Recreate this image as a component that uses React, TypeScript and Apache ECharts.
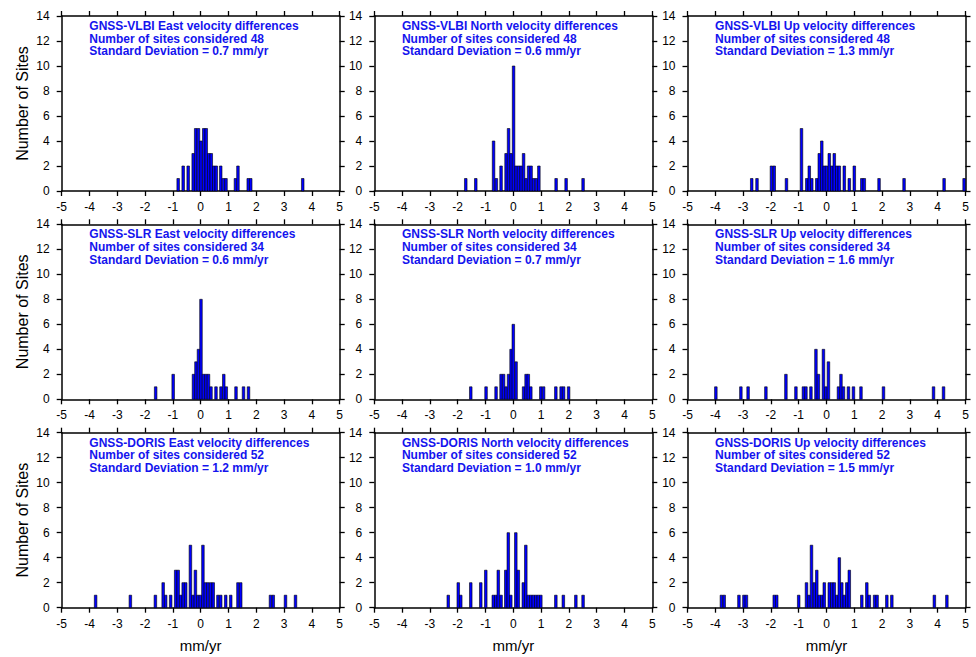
import React, { useEffect, useRef } from 'react';
import * as echarts from 'echarts';

// ---- values ([bin centre in mm/yr, number of sites]) ----
const vlbiEast = [[-0.81,1],[-0.63,2],[-0.45,2],[-0.27,3],[-0.18,5],[-0.08,5],[0.01,4],[0.11,5],[0.2,5],[0.29,3],[0.38,3],[0.47,2],[0.56,2],[0.72,2],[0.82,1],[0.91,1],[1.25,1],[1.34,2],[1.71,1],[1.8,1],[3.67,1]];
const vlbiNorth = [[-1.71,1],[-1.35,1],[-0.71,4],[-0.61,1],[-0.44,2],[-0.26,3],[-0.17,5],[-0.08,3],[0.01,10],[0.1,2],[0.19,2],[0.28,2],[0.37,3],[0.46,1],[0.55,2],[0.64,2],[0.73,1],[0.83,1],[0.92,2],[1.54,1],[1.9,1],[2.51,1]];
const vlbiUp = [[-2.69,1],[-2.5,1],[-1.98,2],[-1.88,2],[-1.44,1],[-0.9,5],[-0.71,1],[-0.62,2],[-0.53,1],[-0.35,1],[-0.26,3],[-0.17,4],[-0.08,2],[0.0,2],[0.1,3],[0.19,2],[0.28,3],[0.37,2],[0.46,2],[0.64,2],[0.82,1],[1.0,2],[1.27,1],[1.36,1],[1.89,1],[2.79,1],[4.23,1],[4.95,1]];
const slrEast = [[-1.62,1],[-0.99,2],[-0.26,2],[-0.17,3],[-0.08,4],[0.01,8],[0.1,2],[0.19,2],[0.28,2],[0.37,1],[0.55,1],[0.73,1],[0.83,2],[0.92,1],[1.27,1],[1.54,1],[1.72,1]];
const slrNorth = [[-1.53,1],[-0.98,1],[-0.62,1],[-0.44,2],[-0.35,2],[-0.26,1],[-0.17,2],[-0.08,4],[0.0,6],[0.1,3],[0.37,1],[0.46,2],[0.54,2],[0.63,1],[0.99,1],[1.09,1],[1.53,1],[1.72,1],[1.81,1],[1.99,1]];
const slrUp = [[-3.98,1],[-3.08,1],[-2.82,1],[-2.18,1],[-1.46,2],[-1.1,1],[-0.83,1],[-0.74,1],[-0.56,1],[-0.38,4],[-0.29,2],[-0.11,4],[-0.02,1],[0.07,3],[0.43,1],[0.52,2],[0.61,1],[0.79,1],[0.97,1],[1.24,1],[2.05,1],[3.85,1],[4.21,1]];
const dorisEast = [[-3.78,1],[-2.53,1],[-1.63,1],[-1.35,2],[-1.26,1],[-1.08,1],[-0.9,3],[-0.81,3],[-0.72,1],[-0.63,2],[-0.54,2],[-0.37,5],[-0.28,1],[-0.19,3],[-0.1,1],[-0.01,1],[0.08,5],[0.17,2],[0.26,2],[0.36,2],[0.45,2],[0.62,1],[0.72,1],[0.9,1],[1.08,1],[1.34,2],[1.44,2],[2.51,1],[2.61,1],[3.05,1],[3.41,1]];
const dorisNorth = [[-2.34,1],[-1.98,2],[-1.89,1],[-1.53,2],[-1.17,2],[-0.99,3],[-0.72,1],[-0.63,1],[-0.54,3],[-0.44,1],[-0.27,3],[-0.18,6],[-0.09,1],[0.09,6],[0.18,3],[0.36,2],[0.45,5],[0.54,1],[0.63,1],[0.72,1],[0.81,1],[0.9,1],[0.99,1],[1.53,1],[1.8,1],[2.25,1],[2.51,1]];
const dorisUp = [[-3.78,1],[-3.68,1],[-3.15,1],[-2.97,1],[-2.88,1],[-1.88,1],[-1.79,1],[-1.0,1],[-0.72,2],[-0.63,1],[-0.54,5],[-0.44,2],[-0.35,3],[-0.26,1],[-0.17,1],[-0.08,2],[0.1,2],[0.19,2],[0.28,2],[0.37,1],[0.46,4],[0.55,2],[0.64,1],[0.73,2],[0.82,3],[1.27,1],[1.45,2],[1.54,1],[1.73,1],[1.82,1],[2.17,1],[2.35,1],[3.88,1],[4.33,1]];

const panelData = [vlbiEast, vlbiNorth, vlbiUp, slrEast, slrNorth, slrUp, dorisEast, dorisNorth, dorisUp];
const panelTitles = [
  'GNSS-VLBI East velocity differences', 'GNSS-VLBI North velocity differences', 'GNSS-VLBI Up velocity differences',
  'GNSS-SLR East velocity differences', 'GNSS-SLR North velocity differences', 'GNSS-SLR Up velocity differences',
  'GNSS-DORIS East velocity differences', 'GNSS-DORIS North velocity differences', 'GNSS-DORIS Up velocity differences',
];
const siteCounts = [48, 48, 48, 34, 34, 34, 52, 52, 52];
const stdDevs = ['0.7', '0.6', '1.3', '0.6', '0.7', '1.6', '1.2', '1.0', '1.5'];

const X_MIN = -5, X_MAX = 5, X_STEP = 1;
const Y_MIN = 0, Y_MAX = 14, Y_STEP = 2;
const BIN_WIDTH = 0.092;

const FONT = '"Liberation Sans", Arial, Helvetica, sans-serif';
const GRID_LEFTS = [61.7, 374.3, 687.5];
const GRID_TOPS = [16, 224.3, 432.7];
const GRID_W = 278;
const GRID_H = 175;

export default function App() {
  const ref = useRef<HTMLDivElement>(null);
  useEffect(() => {
    if (!ref.current) return;
    const chart = echarts.init(ref.current, null, { renderer: 'svg' });
    const grids: any[] = [];
    const xAxes: any[] = [];
    const yAxes: any[] = [];
    const series: any[] = [];
    const titles: any[] = [];
    const line = { show: true, onZero: false, lineStyle: { color: '#000', width: 1.5 } };
    const tick = { show: true, inside: false, length: 5, lineStyle: { color: '#000', width: 1.3 } };
    for (let i = 0; i < 9; i++) {
      const r = Math.floor(i / 3), c = i % 3;
      grids.push({ left: GRID_LEFTS[c], top: GRID_TOPS[r], width: GRID_W, height: GRID_H, containLabel: false });
      const xBase = { type: 'value', gridIndex: i, min: X_MIN, max: X_MAX, interval: X_STEP, axisLine: line, axisTick: tick, splitLine: { show: false } };
      xAxes.push({
        ...xBase, position: 'bottom',
        axisLabel: { show: true, color: '#000', fontSize: 12, fontFamily: FONT, margin: 10 },
        name: r === 2 ? 'mm/yr' : '', nameLocation: 'middle', nameGap: 30,
        nameTextStyle: { color: '#000', fontSize: 15, fontFamily: FONT },
      });
      xAxes.push({ ...xBase, position: 'top', axisLabel: { show: false } });
      const yBase = { type: 'value', gridIndex: i, min: Y_MIN, max: Y_MAX, interval: Y_STEP, axisLine: line, axisTick: tick, splitLine: { show: false } };
      yAxes.push({
        ...yBase, position: 'left',
        axisLabel: { show: true, color: '#000', fontSize: 12, fontFamily: FONT, margin: 12 },
        name: c === 0 ? 'Number of Sites' : '', nameLocation: 'middle', nameGap: 31, nameRotate: 90,
        nameTextStyle: { color: '#000', fontSize: 16, fontFamily: FONT },
      });
      yAxes.push({ ...yBase, position: 'right', axisLabel: { show: false } });
      series.push({
        type: 'custom',
        xAxisIndex: 2 * i,
        yAxisIndex: 2 * i,
        data: panelData[i],
        encode: { x: 0, y: 1 },
        renderItem: (params: any, api: any) => {
          const x = api.value(0), y = api.value(1);
          const p1 = api.coord([x - BIN_WIDTH / 2, y]);
          const p2 = api.coord([x + BIN_WIDTH / 2, 0]);
          return {
            type: 'rect',
            shape: { x: p1[0], y: p1[1], width: p2[0] - p1[0], height: p2[1] - p1[1] },
            style: { fill: '#0000ff', stroke: '#000', lineWidth: 0.6 },
          };
        },
      });
      titles.push({
        text: `${panelTitles[i]}\nNumber of sites considered ${siteCounts[i]}\nStandard Deviation = ${stdDevs[i]} mm/yr`,
        left: GRID_LEFTS[c] + 27.6,
        top: GRID_TOPS[r] + 3.5,
        padding: 0,
        textStyle: { color: '#1414ee', fontSize: 12, fontWeight: 'bold', fontFamily: FONT, lineHeight: 12.7 },
      });
    }
    chart.setOption({
      animation: false,
      backgroundColor: '#fff',
      title: titles,
      grid: grids,
      xAxis: xAxes,
      yAxis: yAxes,
      series,
    });
    return () => chart.dispose();
  }, []);
  return <div ref={ref} style={{ position: 'fixed', left: 0, top: 0, width: 976, height: 657 }} />;
}
